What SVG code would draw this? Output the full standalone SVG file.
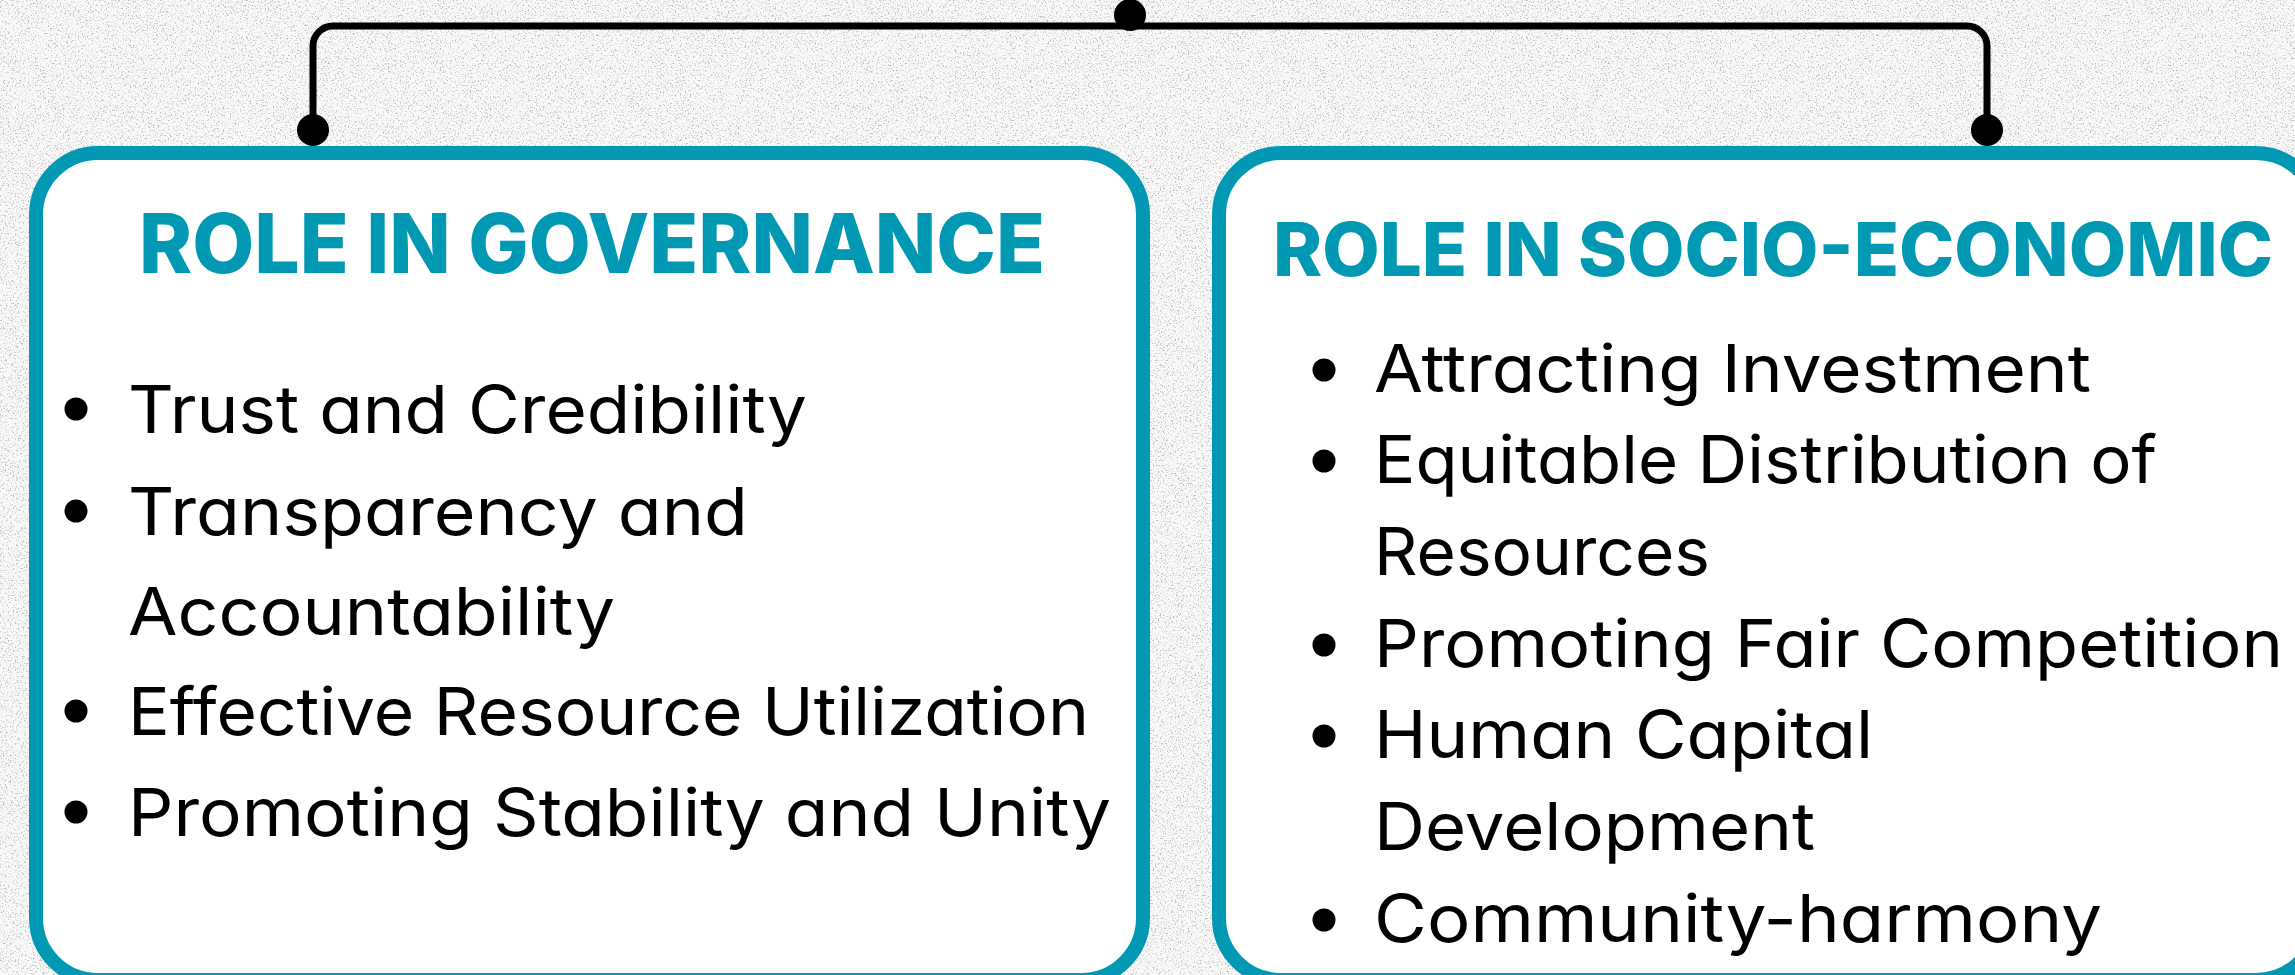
<svg xmlns="http://www.w3.org/2000/svg" width="2295" height="975" viewBox="0 0 2295 975">
  <defs>
    <filter id="grain" x="0" y="0" width="2295" height="975" filterUnits="userSpaceOnUse">
      <feTurbulence type="fractalNoise" baseFrequency="0.6" numOctaves="4" seed="7" result="n"/>
      <feColorMatrix in="n" type="matrix" values="0 0 0 0 0.5  0 0 0 0 0.5  0 0 0 0 0.5  4.2 0 0 0 -2.25"/>
    </filter>
    <style>
      .box { fill: #ffffff; stroke: #0098b3; stroke-width: 14; }
      .title { font-family: Inter, "Noto Sans", "Liberation Sans", sans-serif; font-weight: 800; fill: #0098b3; }
      .item { font-family: Inter, "Noto Sans", "Liberation Sans", sans-serif; font-weight: 400; fill: #000000; font-size: 66px; font-feature-settings: "cv11" 1; }
      .bullet { fill: #000000; }
      .wire { fill: none; stroke: #000000; stroke-width: 7; }
      .dot { fill: #000000; }
    </style>
  </defs>

  <rect x="0" y="0" width="2295" height="975" fill="#f9f9f9"/>
  <rect x="0" y="0" width="2295" height="975" filter="url(#grain)"/>

  <g id="connectors">
    <path class="wire" d="M313,130 V46 A20,20 0 0 1 333,26 H1967 A20,20 0 0 1 1987,46 V130"/>
    <circle class="dot" cx="1130" cy="15" r="16"/>
    <circle class="dot" cx="313" cy="130" r="16"/>
    <circle class="dot" cx="1987" cy="130" r="16"/>
  </g>

  <g id="governance">
    <rect class="box" x="36" y="153" width="1107" height="827" rx="62" ry="62"/>
    <text class="title" x="139" y="273" font-size="82" textLength="906" lengthAdjust="spacingAndGlyphs">ROLE IN GOVERNANCE</text>
    <circle class="bullet" cx="76" cy="409" r="11.5"/>
    <text class="item" x="128" y="433" textLength="679" lengthAdjust="spacingAndGlyphs">Trust and Credibility</text>
    <circle class="bullet" cx="76" cy="511" r="11.5"/>
    <text class="item" x="128" y="535" textLength="620" lengthAdjust="spacingAndGlyphs">Transparency and</text>
    <text class="item" x="128" y="635" textLength="487" lengthAdjust="spacingAndGlyphs">Accountability</text>
    <circle class="bullet" cx="76" cy="711" r="11.5"/>
    <text class="item" x="128" y="735" textLength="961" lengthAdjust="spacingAndGlyphs">Effective Resource Utilization</text>
    <circle class="bullet" cx="76" cy="812" r="11.5"/>
    <text class="item" x="128" y="836" textLength="983" lengthAdjust="spacingAndGlyphs">Promoting Stability and Unity</text>
  </g>

  <g id="socio-economic">
    <rect class="box" x="1219" y="153" width="1099" height="827" rx="62" ry="62"/>
    <text class="title" x="1273" y="276" font-size="74" textLength="1000" lengthAdjust="spacingAndGlyphs">ROLE IN SOCIO-ECONOMIC</text>
    <circle class="bullet" cx="1324" cy="370" r="11.5"/>
    <text class="item" x="1374" y="392" textLength="717" lengthAdjust="spacingAndGlyphs">Attracting Investment</text>
    <circle class="bullet" cx="1324" cy="461" r="11.5"/>
    <text class="item" x="1374" y="483" textLength="783" lengthAdjust="spacingAndGlyphs">Equitable Distribution of</text>
    <text class="item" x="1374" y="575" textLength="336" lengthAdjust="spacingAndGlyphs">Resources</text>
    <circle class="bullet" cx="1324" cy="645" r="11.5"/>
    <text class="item" x="1374" y="667" textLength="909" lengthAdjust="spacingAndGlyphs">Promoting Fair Competition</text>
    <circle class="bullet" cx="1324" cy="736" r="11.5"/>
    <text class="item" x="1374" y="758" textLength="499" lengthAdjust="spacingAndGlyphs">Human Capital</text>
    <text class="item" x="1374" y="850" textLength="441" lengthAdjust="spacingAndGlyphs">Development</text>
    <circle class="bullet" cx="1324" cy="920" r="11.5"/>
    <text class="item" x="1374" y="942" textLength="728" lengthAdjust="spacingAndGlyphs">Community-harmony</text>
  </g>
</svg>
